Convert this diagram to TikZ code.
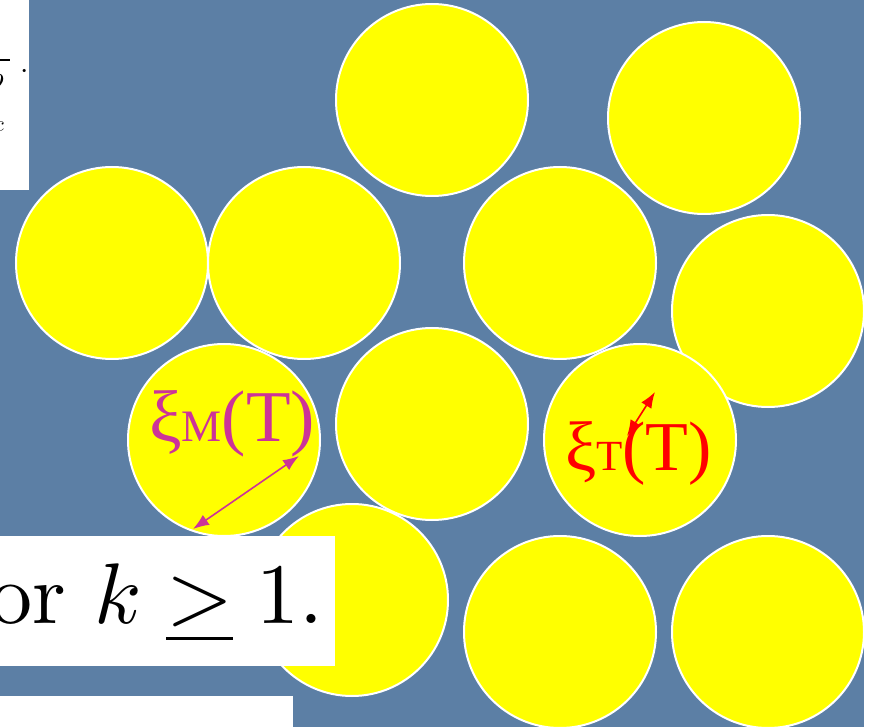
\documentclass[tikz,border=0pt]{standalone}
\usepackage{fontspec}
\newfontfamily\timesfont{Liberation Serif}
\usetikzlibrary{arrows.meta}
\definecolor{bgblue}{RGB}{92,127,165}
\definecolor{ball}{RGB}{255,255,0}
\definecolor{magentaL}{RGB}{204,51,153}
\tikzset{
  ballnode/.style={circle,fill=ball,draw=white,line width=2pt,minimum size=192pt,inner sep=0pt},
  lab/.style={inner sep=0pt,anchor=base west,font=\timesfont},
  dbl/.style={line width=1.6pt,{Latex[length=16pt,width=12pt]}-{Latex[length=16pt,width=12pt]}}
}
\begin{document}
\begin{tikzpicture}[x=1pt,y=-1pt]
\useasboundingbox (0,0) rectangle (876,727);
\fill[white] (0,0) rectangle (876,727);
\fill[bgblue] (0,0) rectangle (864,727);
% top-left white box with clipped formula fragment
\fill[white] (0,0) rectangle (29,190);
\begin{scope}
\clip (0,0) rectangle (29,190);
\draw[line width=2pt] (0,60) -- (10,60);
\node[inner sep=0pt,anchor=east] (tlb) at (4,77) {\scalebox{3}{$b$}};
\node[inner sep=0pt,anchor=east] (tlc) at (4,127) {\scalebox{2.2}{$c$}};
\end{scope}
\node[inner sep=0pt] (tldot) at (25,72) {\scalebox{3}{$\cdot$}};
% balls
\node[ballnode] (c1) at (432,100) {};
\node[ballnode] (c2) at (704,118) {};
\node[ballnode] (c3) at (112,263) {};
\node[ballnode] (c4) at (304,263) {};
\node[ballnode] (c5) at (560,263) {};
\node[ballnode] (c6) at (768,311) {};
\node[ballnode] (c7) at (224,440) {};
\node[ballnode] (c8) at (432,424) {};
\node[ballnode] (c9) at (640,440) {};
\node[ballnode] (c10) at (352,600) {};
\node[ballnode] (c11) at (560,632) {};
\node[ballnode] (c12) at (768,632) {};
% labels
\node[lab,text=magentaL] (xim) at (149,442) {\fontsize{73}{73}\selectfont ξ\fontsize{45}{45}\selectfont M\fontsize{73}{73}\selectfont(T)};
\node[lab,text=red] (xit) at (565,470) {\fontsize{70}{70}\selectfont ξ\fontsize{43}{43}\selectfont T\fontsize{70}{70}\selectfont(T)};
% arrows
\coordinate (ma) at (193,529);
\coordinate (mb) at (299,456);
\draw[dbl,draw=magentaL,fill=magentaL] (ma) -- (mb);
\coordinate (ta) at (627,436);
\coordinate (tb) at (655,392);
\draw[dbl,draw=red,fill=red] (ta) -- (tb);
% bottom white boxes
\fill[white] (0,536) rectangle (335,666);
\begin{scope}
\clip (0,536) rectangle (335,666);
\node[inner sep=0pt,anchor=base east] (ftext) at (324,623) {\scalebox{8.6}{for $k \mathrel{\underline{>}} 1$.}};
\end{scope}
\fill[white] (0,696) rectangle (293,727);
\end{tikzpicture}
\end{document}
